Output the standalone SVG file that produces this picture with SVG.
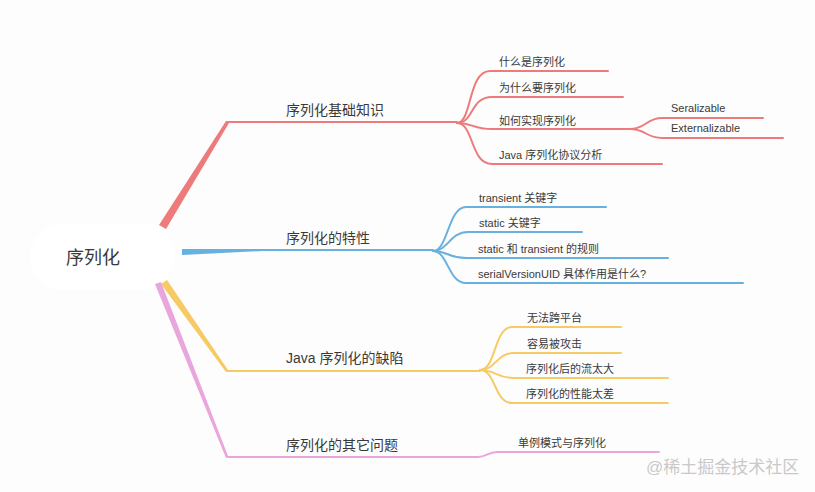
<svg xmlns="http://www.w3.org/2000/svg" width="815" height="492" viewBox="0 0 815 492">
<style>
text{font-family:"Liberation Sans","Noto Sans CJK SC",sans-serif;fill:#3a3a3a}
.root{font-size:18px}
.main{font-size:14px}
.leaf{font-size:11px}
.l{fill:none;stroke-width:2;stroke-linecap:round}
.r{stroke:#ee7b7b}.b{stroke:#66b1e0}.y{stroke:#f6cb66}.p{stroke:#e9a6dc}
.wm{font-size:17px;fill:#c9c9c9}
</style>
<rect width="815" height="492" fill="#fdfdfd"/>
<g id="root">
<rect x="30" y="224" width="145" height="66" rx="33" fill="#ffffff"/>
<text class="root" x="66" y="264">序列化</text>
</g>
<g id="connectors">
<polygon points="159,225 226,121 229,123 166,229" fill="#ee7b7b"/>
<path class="l r" d="M227,122 H457"/>
<polygon points="182,249 263,249 263,251 182,255" fill="#66b1e0"/>
<path class="l b" d="M263,250 H433"/>
<polygon points="161,284 167,280 228,370 226,372" fill="#f6cb66"/>
<path class="l y" d="M227,371 H480"/>
<polygon points="155,284 161,282 228,456 226,458" fill="#e9a6dc"/>
<path class="l p" d="M227,457 H478 C486,457 488,452 497,452 H659"/>
<path class="l r" d="M457,123 C472,123 468,71 490,71 H608"/>
<path class="l r" d="M457,123 C474,123 470,97 492,97 H623"/>
<path class="l r" d="M457,123 C474,123 472,129 492,129 H630"/>
<path class="l r" d="M457,123 C474,123 470,164 492,164 H662"/>
<path class="l r" d="M630,129 C646,129 646,118 662,118 H763"/>
<path class="l r" d="M630,129 C646,129 646,138 662,138 H783"/>
<path class="l b" d="M433,251 C448,251 448,207 466,207 H606"/>
<path class="l b" d="M433,251 C448,251 450,232 468,232 H582"/>
<path class="l b" d="M433,251 C448,251 448,258 466,258 H668"/>
<path class="l b" d="M433,251 C448,251 448,283 466,283 H743"/>
<path class="l y" d="M480,370 C496,370 494,327 512,327 H621"/>
<path class="l y" d="M480,370 C496,370 496,353 514,353 H621"/>
<path class="l y" d="M480,370 C496,370 496,378 514,378 H668"/>
<path class="l y" d="M480,370 C496,370 494,403 512,403 H668"/>
</g>
<g id="n1"><text class="main" x="286" y="115">序列化基础知识</text></g>
<g id="n1a"><text class="leaf" x="499" y="66">什么是序列化</text></g>
<g id="n1b"><text class="leaf" x="499" y="92">为什么要序列化</text></g>
<g id="n1c"><text class="leaf" x="499" y="125">如何实现序列化</text></g>
<g id="n1c1"><text class="leaf" x="671" y="112">Seralizable</text></g>
<g id="n1c2"><text class="leaf" x="671" y="132">Externalizable</text></g>
<g id="n1d"><text class="leaf" x="499" y="159">Java 序列化协议分析</text></g>
<g id="n2"><text class="main" x="286" y="243">序列化的特性</text></g>
<g id="n2a"><text class="leaf" x="479" y="202">transient 关键字</text></g>
<g id="n2b"><text class="leaf" x="479" y="227">static 关键字</text></g>
<g id="n2c"><text class="leaf" x="478" y="253">static 和 transient 的规则</text></g>
<g id="n2d"><text class="leaf" x="478" y="278">serialVersionUID 具体作用是什么?</text></g>
<g id="n3"><text class="main" x="286" y="363">Java 序列化的缺陷</text></g>
<g id="n3a"><text class="leaf" x="527" y="322">无法跨平台</text></g>
<g id="n3b"><text class="leaf" x="527" y="348">容易被攻击</text></g>
<g id="n3c"><text class="leaf" x="526" y="373">序列化后的流太大</text></g>
<g id="n3d"><text class="leaf" x="526" y="398">序列化的性能太差</text></g>
<g id="n4"><text class="main" x="286" y="450">序列化的其它问题</text></g>
<g id="n4a"><text class="leaf" x="518" y="447">单例模式与序列化</text></g>
<text class="wm" x="646" y="473">@稀土掘金技术社区</text>
</svg>
